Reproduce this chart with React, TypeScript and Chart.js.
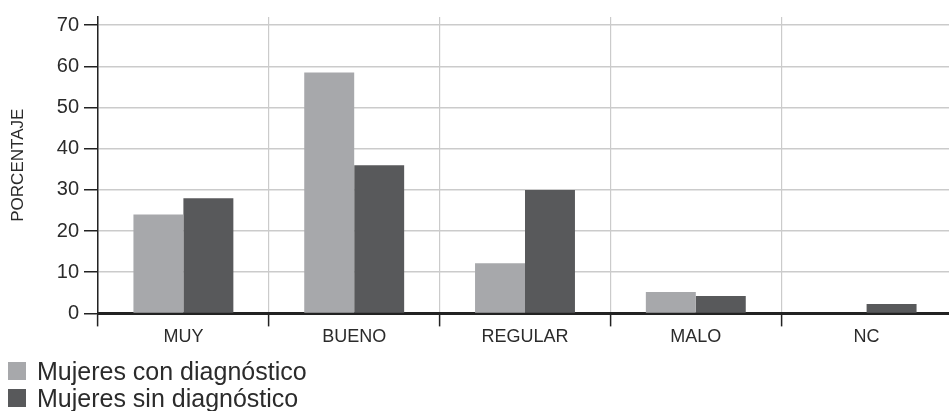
import React, { useEffect, useRef } from "react";
import { Chart, registerables } from "chart.js";

Chart.register(...registerables);

const categories = ["MUY", "BUENO", "REGULAR", "MALO", "NC"];
const conDiagnostico = [24, 58.5, 12.2, 5.2, 0];
const sinDiagnostico = [28, 36, 30, 4.2, 2.3];
const seriesNames = ["Mujeres con diagnóstico", "Mujeres sin diagnóstico"];
const seriesColors = ["#a7a8ab", "#58595b"];
const yTickValues = [0, 10, 20, 30, 40, 50, 60, 70];

const FONT = "'Liberation Sans', Arial, sans-serif";
const TEXT = "#2b2b2b";

export default function App() {
  const ref = useRef<HTMLCanvasElement | null>(null);

  useEffect(() => {
    if (!ref.current) return;
    const chart = new Chart(ref.current, {
      type: "bar",
      data: {
        labels: categories,
        datasets: [
          {
            label: seriesNames[0],
            data: conDiagnostico,
            backgroundColor: seriesColors[0],
            borderWidth: 0,
            barPercentage: 1,
            categoryPercentage: 0.585,
          },
          {
            label: seriesNames[1],
            data: sinDiagnostico,
            backgroundColor: seriesColors[1],
            borderWidth: 0,
            barPercentage: 1,
            categoryPercentage: 0.585,
          },
        ],
      },
      options: {
        animation: false,
        responsive: false,
        maintainAspectRatio: false,
        layout: { padding: { left: 8, right: 1, top: 15, bottom: 63 } },
        plugins: { legend: { display: false }, tooltip: { enabled: false } },
        scales: {
          x: {
            offset: true,
            grid: {
              offset: true,
              color: "#cbcbcb",
              lineWidth: 1.2,
              tickColor: "#222",
              tickLength: 13,
              tickWidth: 1.5,
            },
            border: { color: "#222", width: 3 },
            ticks: {
              color: TEXT,
              font: { family: FONT, size: 18 },
              padding: 0,
            },
          },
          y: {
            min: 0,
            max: 72,
            afterBuildTicks: (scale: any) => {
              scale.ticks = yTickValues.map((v) => ({ value: v }));
            },
            afterFit: (scale: any) => {
              scale.width = 90;
            },
            grid: {
              color: "#cbcbcb",
              lineWidth: 1.5,
              tickColor: "#222",
              tickLength: 14,
              tickWidth: 1.5,
            },
            border: { color: "#222", width: 1.5 },
            ticks: {
              color: TEXT,
              font: { family: FONT, size: 20 },
              padding: 5,
            },
            title: {
              display: true,
              text: "PORCENTAJE",
              color: TEXT,
              font: { family: FONT, size: 17 },
              padding: { top: 0, bottom: 0 },
            },
          },
        },
      },
    });
    return () => chart.destroy();
  }, []);

  return (
    <div
      style={{
        position: "fixed",
        left: 0,
        top: 0,
        width: 949,
        height: 411,
        overflow: "hidden",
        background: "#fff",
      }}
    >
      <canvas ref={ref} width={953} height={411} style={{ display: "block" }} />
      {seriesNames.map((name, i) => (
        <div
          key={name}
          style={{
            position: "absolute",
            left: 8,
            top: 360 + i * 27,
            height: 22,
            display: "flex",
            alignItems: "center",
            fontFamily: FONT,
            fontSize: 25,
            color: TEXT,
            whiteSpace: "nowrap",
          }}
        >
          <span
            style={{
              display: "inline-block",
              width: 18,
              height: 18,
              background: seriesColors[i],
              marginRight: 11,
            }}
          />
          {name}
        </div>
      ))}
    </div>
  );
}
